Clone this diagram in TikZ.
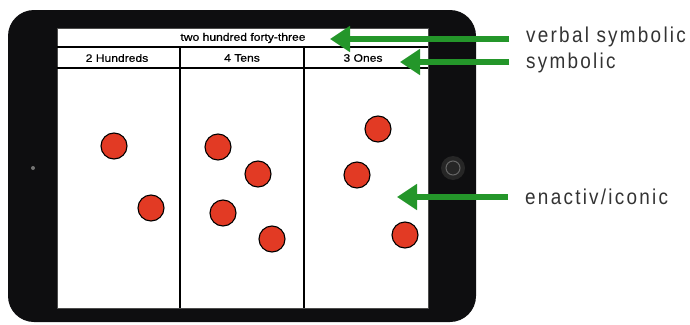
\documentclass[tikz,border=0pt]{standalone}
\usepackage{fontspec}
\usetikzlibrary{arrows.meta}
\newfontfamily\tabfont[FakeStretch=1.12,FakeBold=0.6]{Liberation Sans}
\newfontfamily\lblfont[FakeStretch=0.88,LetterSpace=10.5]{Liberation Sans}
\definecolor{arrowgreen}{RGB}{36,150,42}
\definecolor{dotred}{RGB}{226,58,36}
\definecolor{tabletblack}{RGB}{14,14,16}
\begin{document}
\begin{tikzpicture}[x=1pt,y=-1pt,
  dot/.style={circle,draw=black,line width=1.1pt,fill=dotred,minimum size=26pt,inner sep=0pt},
  headtext/.style={font=\tabfont\fontsize{10.8}{12}\selectfont,inner sep=0pt},
  lbl/.style={font=\lblfont\fontsize{21.5}{24}\selectfont,anchor=west,inner sep=0pt,text=black!80},
  greenarrow/.style={draw=arrowgreen,line width=6pt,-{Triangle[length=20pt,width=25pt]},shorten <=17pt}]
\useasboundingbox (0,0) rectangle (690,324);
% tablet body
\fill[tabletblack,rounded corners=26pt] (8,10) rectangle (476,322);
% camera and home button
\fill[black!55] (33,168) circle (2pt);
\fill[black!85] (453,168) circle (12pt);
\draw[black!60,line width=1pt] (453,168) circle (7pt);
% screen
\fill[white] (57,28) rectangle (428,308);
\draw[black!70,line width=0.8pt] (57,28) rectangle (428,308);
\draw[black,line width=1.1pt] (57,47) -- (428,47);
\draw[black,line width=1.1pt] (57,68) -- (428,68);
\draw[black,line width=2pt] (180,47) -- (180,308);
\draw[black,line width=2pt] (304,47) -- (304,308);
% header texts
\node[headtext] (title) at (243,38) {two hundred forty-three};
\node[headtext] (hund) at (117,58) {2 Hundreds};
\node[headtext] (tens) at (242,58) {4 Tens};
\node[headtext] (ones) at (363,58) {3 Ones};
% dots
\node[dot] (h1) at (114,146) {};
\node[dot] (h2) at (151,208) {};
\node[dot] (t1) at (218,147) {};
\node[dot] (t2) at (258,174) {};
\node[dot] (t3) at (223,213) {};
\node[dot] (t4) at (272,239) {};
\node[dot] (o1) at (378,129) {};
\node[dot] (o2) at (357,175) {};
\node[dot] (o3) at (405,235) {};
% labels
\node[lbl] (vs) at (526,37) {verbal symbolic};
\node[lbl] (sy) at (526,63) {symbolic};
\node[lbl] (ei) at (525,197) {enactiv/iconic};
% arrow tips
\coordinate (tipvs) at (330,39);
\coordinate (tipsy) at (400,62);
\coordinate (tipei) at (397,197);
\draw[greenarrow] (vs.west |- tipvs) -- (tipvs);
\draw[greenarrow] (sy.west |- tipsy) -- (tipsy);
\draw[greenarrow] (ei.west |- tipei) -- (tipei);
\end{tikzpicture}
\end{document}
